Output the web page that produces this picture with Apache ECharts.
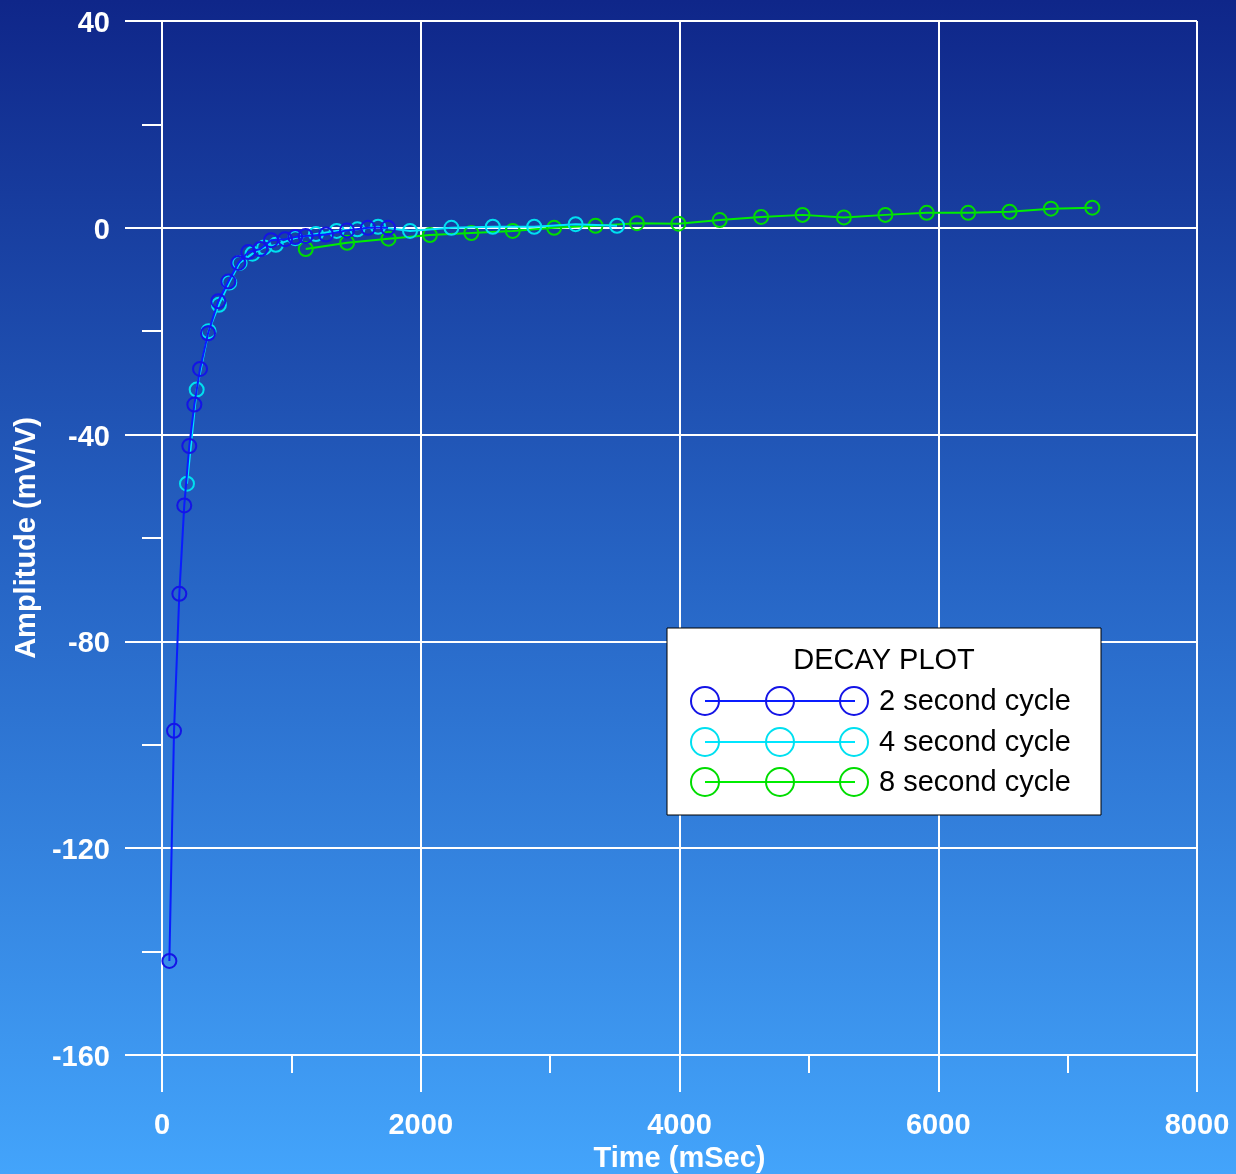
<!DOCTYPE html>
<html>
<head>
<meta charset="utf-8">
<script src="https://cdn.jsdelivr.net/npm/echarts@6/dist/echarts.min.js"></script>
<style>
html,body{margin:0;padding:0;}
#chart{width:1236px;height:1174px;}
</style>
</head>
<body>
<div id="chart"></div>
<script>
// ---- data ----
const seriesNames = ['2 second cycle', '4 second cycle', '8 second cycle'];

const t2 = [57, 93, 134, 172, 211, 250, 294, 356, 435, 513, 590, 667, 760, 843, 951, 1030, 1110, 1268, 1430, 1592, 1747];
const v2 = [-141.8, -97.3, -70.8, -53.7, -42.2, -34.2, -27.3, -20.4, -14.2, -10.4, -6.8, -4.7, -4.1, -2.4, -2.2, -1.8, -1.6, -1.3, -0.5, 0, 0];

const t4 = [193, 268, 360, 440, 520, 600, 700, 790, 880, 1030, 1190, 1350, 1510, 1670, 1917, 2237, 2557, 2877, 3197, 3517];
const v4 = [-49.5, -31.3, -20.0, -14.9, -10.6, -6.8, -5.0, -3.8, -3.3, -2.0, -1.2, -0.6, -0.3, 0.2, -0.6, 0, 0.2, 0.2, 0.7, 0.4];

const t8 = [1111, 1431, 1751, 2071, 2391, 2711, 3031, 3351, 3671, 3991, 4311, 4631, 4951, 5271, 5591, 5911, 6231, 6551, 6871, 7191];
const v8 = [-4.1, -2.9, -2.1, -1.4, -1.0, -0.6, 0, 0.4, 0.9, 0.8, 1.5, 2.1, 2.5, 2.0, 2.5, 2.9, 2.9, 3.1, 3.7, 3.9];

const xTicks = [0, 2000, 4000, 6000, 8000];
const yTicks = [-160, -120, -80, -40, 0, 40];

// ---- styling ----
const lineColors = ['#0a1cff', '#00e6ff', '#00ee00'];
const markColors = ['#1414e6', '#00e0f0', '#00dd00'];
const fontFam = '"Liberation Sans", Arial, sans-serif';

function pairs(t, v) { return t.map((x, i) => [x, v[i]]); }
const dataSets = [pairs(t2, v2), pairs(t4, v4), pairs(t8, v8)];

const chart = echarts.init(document.getElementById('chart'), null, {renderer: 'canvas'});

const seriesList = [2, 1, 0].map(i => ({
  name: seriesNames[i],
  type: 'line',
  data: dataSets[i],
  symbol: 'circle',
  symbolSize: 14,
  showAllSymbol: true,
  lineStyle: {color: lineColors[i], width: 2},
  itemStyle: {color: 'rgba(0,0,0,0)', borderColor: markColors[i], borderWidth: 2},
  emphasis: {disabled: true},
  animation: false,
  z: 3 + (2 - i)
}));

// legend drawn as graphic
const lgX = 667, lgY = 628, lgW = 434, lgH = 187;
const legendEls = [
  {type: 'rect', z: 100, shape: {x: lgX, y: lgY, width: lgW, height: lgH},
   style: {fill: '#ffffff', stroke: '#000000', lineWidth: 1}},
  {type: 'text', z: 101, x: 884, y: 661,
   style: {text: 'DECAY PLOT', font: '29px ' + fontFam, fill: '#000', textAlign: 'center', textVerticalAlign: 'middle'}}
];
const rowY = [701, 742, 782];
seriesNames.forEach((nm, i) => {
  legendEls.push({type: 'line', z: 101, shape: {x1: 705, y1: rowY[i], x2: 855, y2: rowY[i]},
    style: {stroke: lineColors[i], lineWidth: 2}});
  [705, 780, 854].forEach(cx => {
    legendEls.push({type: 'circle', z: 102, shape: {cx: cx, cy: rowY[i], r: 14},
      style: {fill: 'none', stroke: markColors[i], lineWidth: 2}});
  });
  legendEls.push({type: 'text', z: 101, x: 879, y: rowY[i] + 1,
    style: {text: nm, font: '29px ' + fontFam, fill: '#000', textAlign: 'left', textVerticalAlign: 'middle'}});
});

const labelFont = {color: '#fff', fontSize: 29, fontWeight: 'bold', fontFamily: fontFam};

const option = {
  animation: false,
  backgroundColor: {
    type: 'linear', x: 0, y: 0, x2: 0, y2: 1,
    colorStops: [
      {offset: 0, color: '#0f2689'},
      {offset: 0.5, color: '#2766c6'},
      {offset: 1, color: '#43a4fb'}
    ]
  },
  grid: {left: 162, right: 39, top: 21, bottom: 119, containLabel: false, outerBoundsMode: 'none'},
  xAxis: {
    type: 'value', min: xTicks[0], max: xTicks[xTicks.length - 1], interval: 2000,
    name: 'Time (mSec)', nameLocation: 'middle', nameGap: 89,
    nameTextStyle: labelFont,
    axisLine: {show: true, onZero: false, lineStyle: {color: '#fff', width: 2}},
    axisTick: {show: true, inside: false, length: 37, lineStyle: {color: '#fff', width: 2}},
    minorTick: {show: true, splitNumber: 2, length: 18, lineStyle: {color: '#fff', width: 2}},
    axisLabel: Object.assign({margin: 56, formatter: v => String(v)}, labelFont),
    splitLine: {show: true, lineStyle: {color: '#fff', width: 2}}
  },
  yAxis: {
    type: 'value', min: yTicks[0], max: yTicks[yTicks.length - 1], interval: 40,
    name: 'Amplitude (mV/V)', nameLocation: 'middle', nameGap: 117,
    nameTextStyle: labelFont,
    axisLine: {show: true, onZero: false, lineStyle: {color: '#fff', width: 2}},
    axisTick: {show: true, inside: false, length: 37, lineStyle: {color: '#fff', width: 2}},
    minorTick: {show: true, splitNumber: 2, length: 20, lineStyle: {color: '#fff', width: 2}},
    axisLabel: {margin: 52, formatter: v => '{a|' + v + '}',
      rich: {a: Object.assign({padding: [6, 0, 0, 0]}, labelFont)}},
    splitLine: {show: true, lineStyle: {color: '#fff', width: 2}}
  },
  series: seriesList,
  graphic: legendEls
};
chart.setOption(option);
</script>
</body>
</html>
